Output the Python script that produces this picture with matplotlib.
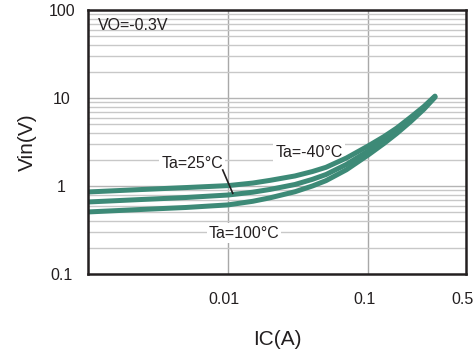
import matplotlib
matplotlib.use("Agg")
import matplotlib.pyplot as plt
from matplotlib.ticker import FixedLocator, NullFormatter
from matplotlib.transforms import ScaledTranslation

plt.rcParams['font.family'] = ['Liberation Sans', 'DejaVu Sans']

# collector current (A)
ic = [0.001, 0.002, 0.005, 0.01, 0.015, 0.02, 0.03, 0.04, 0.05, 0.07,
      0.1, 0.13, 0.16, 0.2, 0.25, 0.3]
# input voltage (V) per ambient temperature
vin_m40 = [0.855, 0.90, 0.96, 1.01, 1.08, 1.16, 1.30, 1.46, 1.63, 2.08,
           2.85, 3.65, 4.55, 6.0, 8.0, 10.5]
vin_25 = [0.658, 0.693, 0.74, 0.79, 0.85, 0.915, 1.04, 1.19, 1.35, 1.76,
          2.50, 3.30, 4.20, 5.65, 7.7, 10.3]
vin_100 = [0.507, 0.534, 0.57, 0.61, 0.67, 0.735, 0.86, 1.0, 1.15, 1.53,
           2.25, 3.05, 3.95, 5.35, 7.45, 10.2]

x_ticks = [0.01, 0.1, 0.5]
x_tick_labels = ['0.01', '0.1', '0.5']
y_ticks = [0.1, 1, 10, 100]
y_tick_labels = ['0.1', '1', '10', '100']

line_color = '#3d8a77'
ink = '#231f20'

fig = plt.figure(figsize=(4.77, 3.57), dpi=100)
ax = fig.add_axes([0.1845, 0.2325, 0.7925, 0.7395])

ax.set_xscale('log')
ax.set_yscale('log')
ax.set_xlim(0.001, 0.5)
ax.set_ylim(0.1, 100)

# grid: vertical only at 0.01 and 0.1, horizontal at every major/minor
for xv in [0.01, 0.1]:
    ax.axvline(xv, color='#a8a8a8', lw=1.0, zorder=1)
for dec in [0.1, 1, 10]:
    for m in range(1, 10):
        yv = dec * m
        if yv <= 0.1 or yv >= 100:
            continue
        ax.axhline(yv, color='#b4b4b4' if m == 1 else '#c8c8c8', lw=1.0, zorder=1)

for v in [vin_100, vin_25, vin_m40]:
    ax.plot(ic, v, color=line_color, lw=3.6, solid_capstyle='round',
            solid_joinstyle='round', zorder=3)

ax.xaxis.set_major_locator(FixedLocator(x_ticks))
ax.xaxis.set_minor_locator(FixedLocator([]))
ax.set_xticklabels(x_tick_labels)
ax.yaxis.set_major_locator(FixedLocator(y_ticks))
ax.yaxis.set_minor_locator(FixedLocator([]))
ax.yaxis.set_minor_formatter(NullFormatter())
ax.set_yticklabels(y_tick_labels)
ax.tick_params(axis='x', length=0, pad=13, labelsize=11.5, colors=ink)
ax.tick_params(axis='y', length=0, pad=19, labelsize=11.5, colors=ink)
for lab in ax.get_yticklabels():
    lab.set_horizontalalignment('center')
shift = ScaledTranslation(-4 / 100, 0, fig.dpi_scale_trans)
for lab in ax.get_xticklabels():
    lab.set_transform(lab.get_transform() + shift)

for s in ax.spines.values():
    s.set_color(ink)
    s.set_linewidth(1.8)
    s.set_zorder(5)

ax.set_xlabel('IC(A)', fontsize=15, color=ink, va='center')
ax.set_ylabel('Vin(V)', fontsize=15, color=ink, va='center')
ax.xaxis.set_label_coords(0.5, -0.25)
ax.yaxis.set_label_coords(-0.159, 0.5)

ax.text(0.00118, 67, 'VO=-0.3V', fontsize=11.5, ha='left', va='center', color=ink, zorder=4)

box = dict(facecolor='white', edgecolor='none', pad=1.5)
ax.text(0.00553, 1.82, 'Ta=25°C', fontsize=11.5, ha='center', va='center', color=ink, bbox=box, zorder=2)
ax.text(0.0379, 2.40, 'Ta=-40°C', fontsize=11.5, ha='center', va='center', color=ink, bbox=box, zorder=2)
ax.text(0.0130, 0.292, 'Ta=100°C', fontsize=11.5, ha='center', va='center', color=ink, bbox=box, zorder=2)
ax.plot([0.00916, 0.0108], [1.52, 0.826], color=ink, lw=1.2, zorder=4)

fig.savefig('out.png', dpi=100)
